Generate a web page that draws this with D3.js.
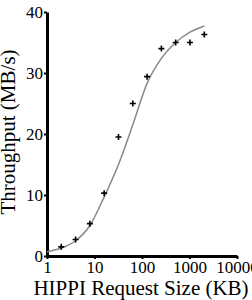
<!DOCTYPE html>
<html>
<head>
<meta charset="utf-8">
<script src="https://cdn.jsdelivr.net/npm/d3@7"></script>
<style>
  body { margin: 0; background: #fff; }
</style>
</head>
<body>
<svg id="chart" width="252" height="300"></svg>
<script>
// request sizes (KB) and measured throughput (MB/s)
const measured_sizes = [2, 4, 8, 16, 32, 64, 128, 256, 512, 1024, 2048];
const measured_mbps = [1.5, 2.7, 5.3, 10.3, 19.5, 25.0, 29.4, 34.0, 35.0, 35.0, 36.3];

// model curve
const model_sizes = [1, 2, 4, 8, 16, 32, 64, 128, 256, 512, 1024, 2048];
const model_mbps = [0.7, 1.3, 2.5, 5.0, 9.7, 15.0, 21.5, 28.3, 32.4, 35.0, 36.7, 37.7];

const x_ticks = [1, 10, 100, 1000, 10000];
const y_ticks = [0, 10, 20, 30, 40];

const serif = 'Liberation Serif';

const svg = d3.select('#chart');

const x = d3.scaleLog().domain([1, 10000]).range([47, 237]);
const y = d3.scaleLinear().domain([0, 40]).range([256, 12]);

const x_axis = svg.append('g')
  .attr('transform', `translate(0, ${y(0)})`)
  .call(d3.axisBottom(x).tickValues(x_ticks).tickFormat(d3.format('d'))
    .tickSizeInner(3).tickSizeOuter(0).tickPadding(2));

const y_axis = svg.append('g')
  .attr('transform', `translate(${x(1)}, 0)`)
  .call(d3.axisLeft(y).tickValues(y_ticks)
    .tickSizeInner(3).tickSizeOuter(0).tickPadding(1));

[x_axis, y_axis].forEach(g => {
  g.attr('font-family', serif).attr('font-size', 17);
  g.select('.domain').attr('stroke', '#000').attr('stroke-width', 3);
  g.selectAll('.tick line').attr('stroke', '#000').attr('stroke-width', 2);
  g.selectAll('.tick text').attr('fill', '#000');
});

// line
const model = model_sizes.map((s, i) => ({ s, v: model_mbps[i] }));
svg.append('path')
  .datum(model)
  .attr('fill', 'none')
  .attr('stroke', '#888')
  .attr('stroke-width', 1.5)
  .attr('d', d3.line().x(d => x(d.s)).y(d => y(d.v)).curve(d3.curveMonotoneX));

// crosses
const measured = measured_sizes.map((s, i) => ({ s, v: measured_mbps[i] }));
svg.append('g')
  .selectAll('path')
  .data(measured)
  .join('path')
  .attr('d', 'M-3,0H3M0,-3V3')
  .attr('transform', d => `translate(${x(d.s)}, ${y(d.v)})`)
  .attr('fill', 'none')
  .attr('stroke', '#000')
  .attr('stroke-width', 1.6);

svg.append('text')
  .attr('x', 141)
  .attr('y', 295)
  .attr('text-anchor', 'middle')
  .attr('font-family', serif)
  .attr('font-size', 21)
  .text('HIPPI Request Size (KB)');

svg.append('text')
  .attr('transform', 'translate(15, 132) rotate(-90)')
  .attr('text-anchor', 'middle')
  .attr('font-family', serif)
  .attr('font-size', 21)
  .text('Throughput (MB/s)');
</script>
</body>
</html>
